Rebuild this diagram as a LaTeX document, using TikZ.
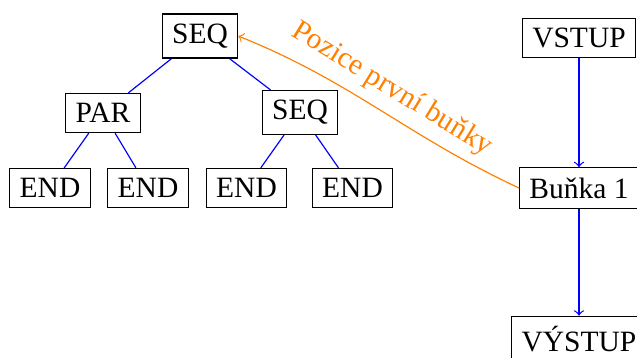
\documentclass[tikz,border=0pt]{standalone}
\usepackage{fontspec}
\setmainfont{Liberation Serif}
\begin{document}
\begin{tikzpicture}[x=0.339pt,y=-0.339pt,
  box/.style={draw,rectangle,inner sep=3.33pt},
  tree/.style={blue},
  flow/.style={blue,->},
  pos link/.style={orange,->}]
\useasboundingbox (0,0) rectangle (637,358);
% program tree
\node[box] (root) at (200,36) {SEQ};
\node[box] (par)  at (103,113) {PAR};
\node[box] (seq)  at (300,112.5) {SEQ};
\node[box] (e1) at (50,188) {END};
\node[box] (e2) at (148,188) {END};
\node[box] (e3) at (246.5,188) {END};
\node[box] (e4) at (352.5,188) {END};
\draw[tree] (root) -- (par);
\draw[tree] (root) -- (seq);
\draw[tree] (par) -- (e1);
\draw[tree] (par) -- (e2);
\draw[tree] (seq) -- (e3);
\draw[tree] (seq) -- (e4);
% data flow
\node[box] (in)   at (579,38) {VSTUP};
\node[box] (cell) at (579,188) {Buňka 1};
\node[box] (out)  at (579,339) {VÝSTUP};
\draw[flow] (in) -- (cell);
\draw[flow] (cell) -- (out);
\draw[pos link] (cell.west) to[out=155,in=-22]
  node[midway,sloped,above] {Pozice první buňky} (root.east);
\end{tikzpicture}
\end{document}
